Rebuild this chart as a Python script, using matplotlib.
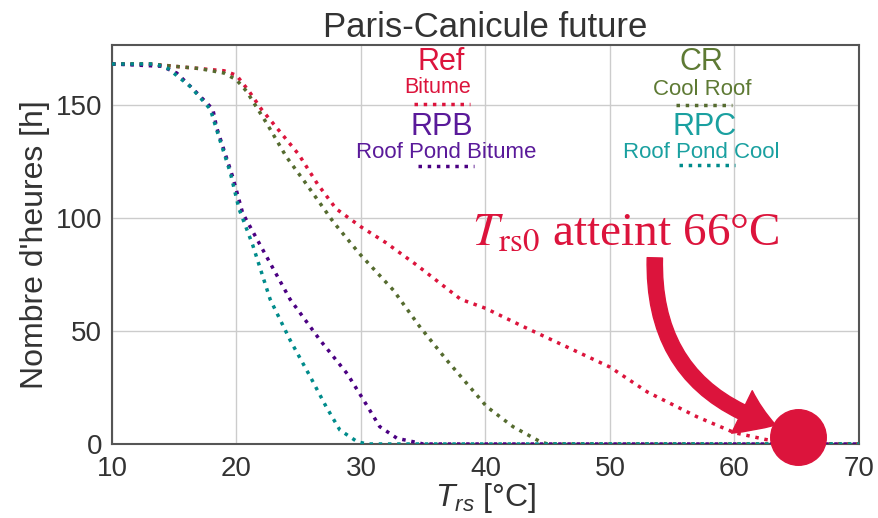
import matplotlib
matplotlib.use("Agg")
import matplotlib.pyplot as plt
from matplotlib.patches import FancyArrowPatch, ArrowStyle

plt.rcParams['font.family'] = ['Liberation Sans', 'DejaVu Sans']
plt.rcParams['mathtext.fontset'] = 'custom'
plt.rcParams['mathtext.rm'] = 'Liberation Sans'
plt.rcParams['mathtext.it'] = 'Liberation Sans:italic'

# ---- data ----
x_ref = [10, 13, 17, 19, 20, 21, 22, 23.5, 25, 26.5, 28, 30, 32, 34.5, 38, 40, 43, 46.5, 50, 53, 57, 60, 62.5, 65, 70]
y_ref = [168, 168, 166, 165, 163, 156, 148, 138, 128, 115, 104, 96, 89, 79, 64, 60, 52, 43, 34, 23, 12, 5, 2, 0, 0]

x_cr = [10, 13, 17, 19, 20, 20.8, 22.4, 24, 25.6, 27.8, 29.9, 32.6, 34.7, 36.9, 40.1, 42.2, 44.4, 45, 70]
y_cr = [168, 168, 166, 164, 161, 156, 142, 127, 115, 98, 84, 68, 52, 37, 16.5, 7.7, 1, 0, 0]

x_rpb = [10, 14, 15.2, 16.5, 18.1, 18.4, 19.7, 20.5, 22.3, 24.3, 26.7, 28.9, 30.2, 31.5, 32.9, 34.2, 35, 70]
y_rpb = [168, 167, 164, 157, 148, 140, 118, 102, 84, 64, 46, 31, 19.5, 7.7, 2.5, 1, 0, 0]

x_rpc = [10, 13.5, 14.5, 16.3, 17.9, 18.4, 19.5, 20.2, 21.3, 22.7, 24.3, 25.9, 27.2, 28.3, 29.7, 30.5, 70]
y_rpc = [168, 168, 166, 158, 148, 139, 120, 104, 88, 64, 46, 30, 16.5, 6.2, 1, 0, 0]

series_abbr = ["Ref", "RPB", "CR", "RPC"]
series_names = ["Bitume", "Roof Pond Bitume", "Cool Roof", "Roof Pond Cool"]
colors = ["#DC143C", "#4B0082", "#556B2F", "#008B8B"]
text_colors = ["#DC143C", "#5A1A9A", "#5E7A34", "#1AA0A0"]

point_x = [65.1]
point_y = [3]

xticks = [10, 20, 30, 40, 50, 60, 70]
yticks = [0, 50, 100, 150]

fig = plt.figure(figsize=(8.79, 5.18), dpi=100)
AX_L, AX_R, AX_B, AX_T = 112, 859, 444, 45
W, H = 879, 518
ax = fig.add_axes([AX_L / W, (H - AX_B) / H, (AX_R - AX_L) / W, (AX_B - AX_T) / H])
ax.set_facecolor('white')

def fx(px):
    return (px - AX_L) / (AX_R - AX_L)

def fy(py):
    return (AX_B - py) / (AX_B - AX_T)

lw = 2.5
ax.plot(x_ref, y_ref, ':', color=colors[0], lw=lw, zorder=3)
ax.plot(x_cr, y_cr, ':', color=colors[2], lw=lw, zorder=3)
ax.plot(x_rpb, y_rpb, ':', color=colors[1], lw=lw, zorder=3)
ax.plot(x_rpc, y_rpc, ':', color=colors[3], lw=lw, zorder=3)

ax.set_xlim(10, 70)
ax.set_ylim(0, 176.4)
ax.set_xticks(xticks)
ax.set_yticks(yticks)
ax.grid(True, color='#cccccc', lw=1.0, zorder=0)
ax.set_axisbelow(True)
for s in ax.spines.values():
    s.set_color('#555555')
    s.set_linewidth(1.5)
ax.tick_params(axis='y', length=0, labelsize=20, colors='#333333', pad=7)
ax.tick_params(axis='x', length=0, labelsize=20, colors='#333333', pad=9)

ax.set_title("Paris-Canicule future", fontsize=25, color='#333333', pad=6)
ax.set_ylabel("Nombre d'heures [h]", fontsize=23, color='#333333', labelpad=4)
ax.set_xlabel(r"$T_{rs}$ [°C]", fontsize=23, color='#333333', labelpad=-1)

# legend-like labels: (abbr x,y), (name x,y), (line x center, y)
abbr_pos = [(441, 62), (442, 127), (701, 62), (705, 127)]
name_pos = [(438, 88), (446, 153), (702, 90), (701, 152)]
line_pos = [(442.5, 104), (446.5, 166), (704.5, 105), (707, 165)]
name_sizes = [15.5, 16, 16, 16]
for ab, nm, c, tc, ap, npos, lp, ns in zip(series_abbr, series_names, colors, text_colors,
                                           abbr_pos, name_pos, line_pos, name_sizes):
    ax.text(fx(ap[0]), fy(ap[1]), ab, transform=ax.transAxes, ha='center', va='center',
            fontsize=22, color=tc)
    ax.text(fx(npos[0]), fy(npos[1]), nm, transform=ax.transAxes, ha='center', va='center',
            fontsize=ns, color=tc)
    ax.plot([fx(lp[0] - 28), fx(lp[0] + 28)], [fy(lp[1]), fy(lp[1])], ':', color=c, lw=lw,
            transform=ax.transAxes, clip_on=False)

# annotation
ax.text(fx(472), fy(245), r"$T_{\mathrm{rs0}}$ atteint 66°C", transform=ax.transAxes,
        fontsize=34, color='#DC143C', family=['Liberation Serif'], math_fontfamily='stix',
        ha='left', va='baseline', zorder=5)

ax.plot(point_x, point_y, 'o', color='#DC143C', ms=40, clip_on=False, zorder=6)

arrow = FancyArrowPatch((53.6, 82.3), (63.3, 8.4),
                        connectionstyle="arc3,rad=0.38",
                        arrowstyle=ArrowStyle("Simple", head_length=26, head_width=34, tail_width=11),
                        color='#DC143C', mutation_scale=1, shrinkA=0, shrinkB=0, zorder=5)
ax.add_patch(arrow)

fig.savefig("out.png", dpi=100)
